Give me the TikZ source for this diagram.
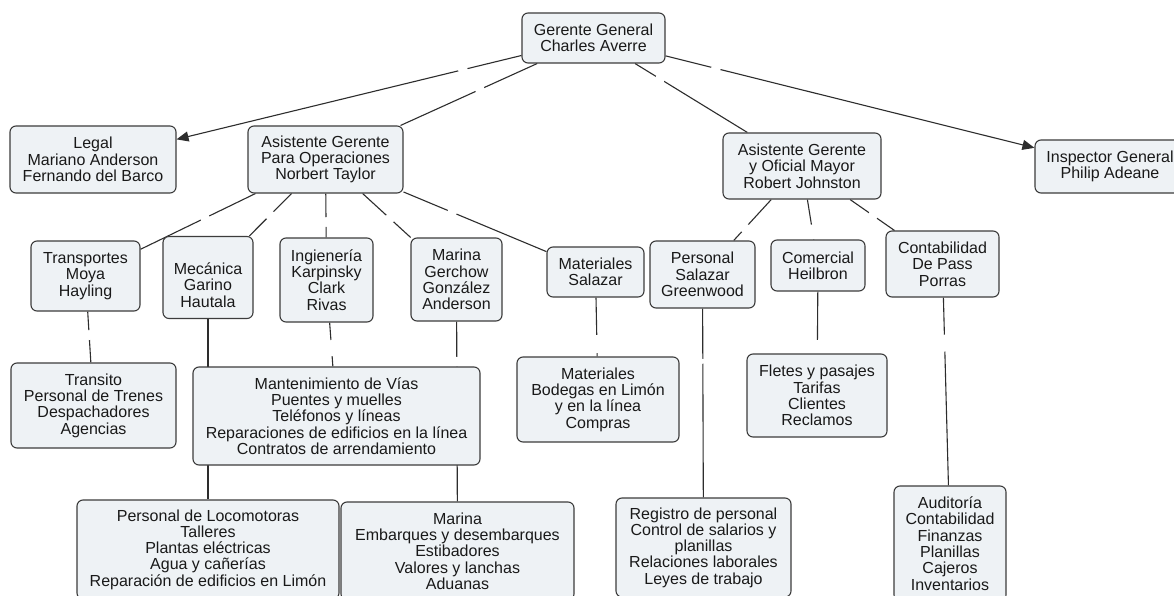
\documentclass[tikz,border=0pt]{standalone}
\usepackage{fontspec}
\setmainfont{Liberation Sans}
\usetikzlibrary{arrows.meta,calc,backgrounds}
\definecolor{boxfill}{RGB}{238,242,245}
\definecolor{boxline}{RGB}{60,60,60}
\definecolor{linkcol}{RGB}{45,45,45}
\definecolor{txtcol}{RGB}{25,25,25}
\tikzset{
  concepttext/.style={text=txtcol, align=center, inner sep=0pt,
    font=\fontsize{16}{16.3}\selectfont},
  concept/.style={concepttext, draw=boxline, fill=boxfill,
    rounded corners=6pt, line width=1.1pt},
  link/.style={draw=linkcol, line width=1.1pt},
  linkarrow/.style={link, -{Triangle[length=12pt,width=10pt]}},
  linkgap/.style={circle, fill=white, inner sep=0pt, minimum size=#1},
  linkgap/.default=10pt,
}
\begin{document}
\begin{tikzpicture}[x=1pt,y=-1pt]
\useasboundingbox (0,0) rectangle (1174,596);

% top level
\node[concept, minimum width=143pt, minimum height=50pt] (gg) at (593.5,38) {Gerente General\\Charles Averre};
\node[concept, minimum width=166pt, minimum height=67pt] (legal) at (93,159.5) {Legal\\Mariano Anderson\\Fernando del Barco};
\node[concept, minimum width=155pt, minimum height=67pt] (ops) at (325.5,159.5) {Asistente Gerente\\Para Operaciones\\Norbert Taylor};
\node[concept, minimum width=158pt, minimum height=66pt] (joh) at (802,166) {Asistente Gerente\\y Oficial Mayor\\Robert Johnston};
\node[concept, minimum width=150pt, minimum height=53pt] (insp) at (1110,166.5) {Inspector General\\Philip Adeane};

% departments
\node[concept, minimum width=109pt, minimum height=70pt] (transp) at (85.5,276) {Transportes\\Moya\\Hayling};
\node[concept, minimum width=90pt, minimum height=82pt] (mec) at (208,277.5) {};
\node[concepttext] (mectxt) at (208,285) {Mecánica\\Garino\\Hautala};
\node[concept, minimum width=93pt, minimum height=84pt] (ing) at (326.5,280) {Ingienería\\Karpinsky\\Clark\\Rivas};
\node[concept, minimum width=91pt, minimum height=83pt] (marina) at (456.5,279.5) {Marina\\Gerchow\\González\\Anderson};
\node[concept, minimum width=97pt, minimum height=50pt] (matsal) at (595.5,272) {Materiales\\Salazar};
\node[concept, minimum width=105pt, minimum height=67pt] (pers) at (702.5,274.5) {Personal\\Salazar\\Greenwood};
\node[concept, minimum width=94pt, minimum height=51pt] (com) at (818,265.5) {Comercial\\Heilbron};
\node[concept, minimum width=113pt, minimum height=66pt] (cont) at (942.5,264) {Contabilidad\\De Pass\\Porras};

% sections
\node[concept, minimum width=165pt, minimum height=85pt] (transito) at (93.5,405.5) {Transito\\Personal de Trenes\\Despachadores\\Agencias};
\node[concept, minimum width=287pt, minimum height=98pt] (mant) at (336.5,416) {Mantenimiento de Vías\\Puentes y muelles\\Teléfonos y líneas\\Reparaciones de edificios en la línea\\Contratos de arrendamiento};
\node[concept, minimum width=162pt, minimum height=85pt] (bod) at (598,399.5) {Materiales\\Bodegas en Limón\\y en la línea\\Compras};
\node[concept, minimum width=140pt, minimum height=83pt] (fletes) at (817,395.5) {Fletes y pasajes\\Tarifas\\Clientes\\Reclamos};
\node[concept, minimum width=262pt, minimum height=99pt] (loco) at (208,549.5) {Personal de Locomotoras\\Talleres\\Plantas eléctricas\\Agua y cañerías\\Reparación de edificios en Limón};
\node[concept, minimum width=233pt, minimum height=98pt] (mar2) at (457.5,551) {Marina\\Embarques y desembarques\\Estibadores\\Valores y lanchas\\Aduanas};
\node[concept, minimum width=175pt, minimum height=99pt] (reg) at (703.5,547.5) {Registro de personal\\Control de salarios y\\planillas\\Relaciones laborales\\Leyes de trabajo};
\node[concept, minimum width=112pt, minimum height=115pt] (aud) at (950,543.5) {Auditoría\\Contabilidad\\Finanzas\\Planillas\\Cajeros\\Inventarios};

\begin{scope}[on background layer]
  \fill[white] (0,0) rectangle (1174,596);
  % from the general manager
  \draw[linkarrow] (gg) -- (legal);
  \node[linkgap] (g1) at ($(gg)!0.261!(legal)$) {};
  \draw[link] (gg) -- (ops);
  \node[linkgap] (g2) at ($(gg)!0.424!(ops)$) {};
  \draw[link] (gg) -- (joh);
  \node[linkgap] (g3) at ($(gg)!0.319!(joh)$) {};
  \draw[linkarrow] (gg) -- (insp);
  \node[linkgap] (g4) at ($(gg)!0.237!(insp)$) {};
  % operations
  \draw[link] (ops) -- (transp);
  \node[linkgap] (g5) at ($(ops)!0.502!(transp)$) {};
  \draw[link] (ops) -- (mec);
  \node[linkgap] (g6) at ($(ops)!0.472!(mec)$) {};
  \draw[link] (ops) -- (ing);
  \node[linkgap] (g7) at ($(ops)!0.519!(ing)$) {};
  \draw[link] (ops) -- (marina);
  \node[linkgap] (g8) at ($(ops)!0.492!(marina)$) {};
  \draw[link] (ops) -- (matsal);
  \node[linkgap] (g9) at ($(ops)!0.469!(matsal)$) {};
  % chief clerk
  \draw[link] (joh) -- (pers);
  \node[linkgap] (g10) at ($(joh)!0.573!(pers)$) {};
  \draw[link] (joh) -- (com);
  \node[linkgap=15pt] (g11) at ($(joh)!0.663!(com)$) {};
  \draw[link] (joh) -- (cont);
  \node[linkgap] (g12) at ($(joh)!0.505!(cont)$) {};
  % lower levels
  \draw[link] (transp) -- (transito);
  \node[linkgap] (g13) at ($(transp)!0.456!(transito)$) {};
  \draw[link] (ing) -- (mant);
  \node[linkgap=16pt] (g14) at ($(ing)!0.5!(mant)$) {};
  \draw[link] (matsal) -- (bod);
  \node[linkgap=18pt] (g15) at ($(matsal)!0.565!(bod)$) {};
  \draw[link] (com) -- (fletes);
  \node[linkgap=14pt] (g16) at ($(com)!0.627!(fletes)$) {};
  \draw[link] (cont) -- (aud);
  \node[linkgap=17pt] (g17) at ($(cont)!0.283!(aud)$) {};
  \draw[link] (pers) -- (reg);
  \node[linkgap=5pt] (g18) at ($(pers)!0.318!(reg)$) {};
  \draw[link] (mec) -- (loco);
  \draw[link] (marina) -- (mar2);
  \node[linkgap=10pt] (g19) at ($(marina)!0.303!(mar2)$) {};
\end{scope}
\end{tikzpicture}
\end{document}
